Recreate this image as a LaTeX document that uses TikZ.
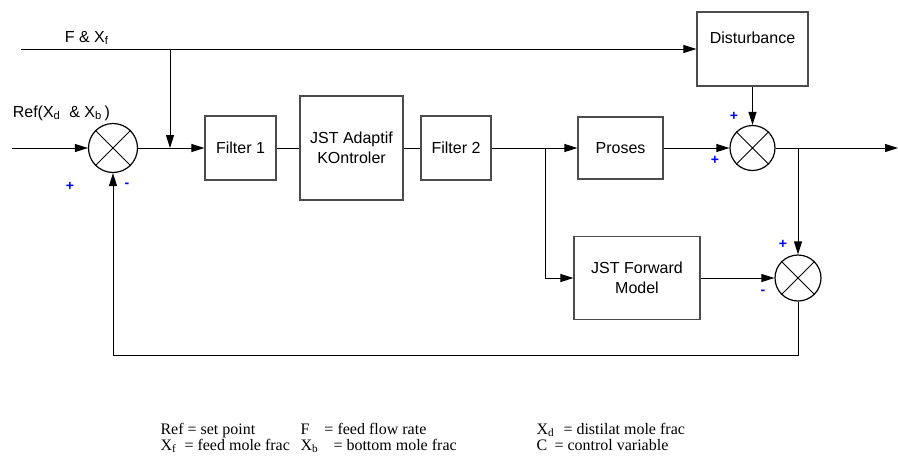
\documentclass[tikz,border=0pt]{standalone}
\usepackage{fontspec}
\setmainfont{Liberation Sans}
\newfontfamily\legendfont{Liberation Serif}
\usetikzlibrary{arrows.meta,calc,positioning}

\begin{document}
\begin{tikzpicture}[x=1pt, y=-1pt, >={Triangle[length=13pt,width=8pt]}, line width=1pt,
    font=\fontsize{16}{19.5}\selectfont,
    block/.style={draw=black!70, line width=1.2pt, align=center, inner sep=0pt},
    summer/.style={draw, circle, line width=1.2pt, minimum size=#1, inner sep=0pt},
    sign/.style={text=blue, font=\fontsize{14}{14}\selectfont\bfseries},
    legend/.style={anchor=base west, inner sep=0pt, font=\legendfont\fontsize{16}{18}\selectfont}]

    \useasboundingbox (0,0) rectangle (898,456);

    \node[summer=49]                                       (s1)    at (113,148)   {};
    \node[block, minimum width=71, minimum height=64]      (f1)    at (240.5,148) {Filter 1};
    \node[block, minimum width=103, minimum height=104]    (jst)   at (351.5,148) {JST Adaptif\\KOntroler};
    \node[block, minimum width=70, minimum height=64]      (f2)    at (456,148)   {Filter 2};
    \node[block, minimum width=85, minimum height=62]      (pros)  at (620.5,148) {Proses};
    \node[block, minimum width=111, minimum height=74, text depth=22pt] (dist) at (752.5,49) {Disturbance};
    \node[summer=45]                                       (s2)    at (752.5,148) {};
    \node[block, minimum width=126, minimum height=83]     (fwd)   at (637,278)   {JST Forward\\Model};
    \node[summer=46]                                       (s3)    at (798,278)   {};

    \foreach \s in {s1,s2,s3}
        \draw[line width=0.8pt] (\s.north west) -- (\s.south east) (\s.north east) -- (\s.south west);

    \coordinate (in)   at (12,148);
    \coordinate (fin)  at (21,49);
    \coordinate (j1)   at (170,49);
    \coordinate (j2)   at (170,148);
    \coordinate (br)   at (545,148);
    \coordinate (br2)  at (798,148);
    \coordinate (out)  at (898,148);
    \coordinate (fb)   at (798,355);

    % signal paths
    \draw[->] (in) -- (s1);
    \draw[->] (fin) -- (dist);
    \draw[->] (j1) -- (j2);
    \draw[->] (s1) -- (f1);
    \draw     (f1) -- (jst);
    \draw     (jst) -- (f2);
    \draw[->] (f2) -- (pros);
    \draw[->] (br) |- (fwd);
    \draw[->] (pros) -- (s2);
    \draw[->] (dist) -- (s2);
    \draw[->] (s2) -- (out);
    \draw[->] (br2) -- (s3);
    \draw[->] (fwd) -- (s3);
    \draw[->] (s3) -- (fb) -| (s1);

    % labels
    \node[anchor=base west] (lf)   at (61,42)   {F \& X\textsubscript{f}};
    \node[anchor=base west] (lref) at (9,117)   {Ref(X\textsubscript{d}\ \ \& X\textsubscript{b}\,)};

    \node[sign] (p1) at (70,186)  {+};
    \node[sign] (m1) at (127,185) {-};
    \node[sign] (p2) at (734,116) {+};
    \node[sign] (p3) at (715,160) {+};
    \node[sign] (p4) at (783,244) {+};
    \node[sign] (m4) at (763,292) {-};

    % legend
    \node[legend] (l1) at (160,434) {Ref = set point};
    \node[legend] (l2) at (300,434) {\makebox[24pt][l]{F}= feed flow rate};
    \node[legend] (l3) at (536,434) {\makebox[27pt][l]{X\textsubscript{d}}= distilat mole frac};
    \node[legend] (l4) at (160,450) {\makebox[24pt][l]{X\textsubscript{f}}= feed mole frac};
    \node[legend] (l5) at (300,450) {\makebox[33pt][l]{X\textsubscript{b}}= bottom mole frac};
    \node[legend] (l6) at (536,450) {\makebox[18pt][l]{C}= control variable};
\end{tikzpicture}
\end{document}
